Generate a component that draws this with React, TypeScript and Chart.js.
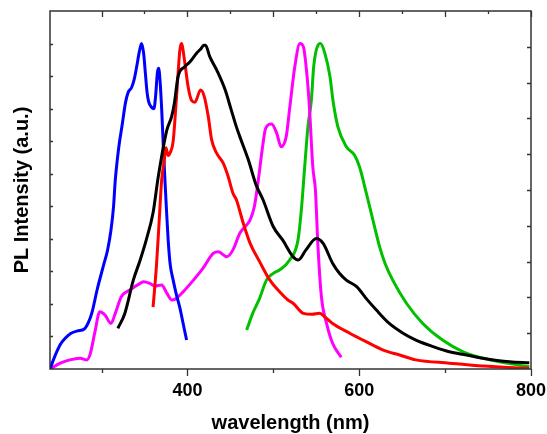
import React, { useEffect, useRef } from 'react';
import { Chart, registerables } from 'chart.js';

Chart.register(...registerables);

// wavelength (nm) and PL intensity (a.u., peak = 100)
const blackX = [319, 327, 337, 345, 352, 360, 366, 376, 381.5, 385, 389, 397, 403, 410.6, 416, 419, 421, 426, 434, 444, 451, 457, 461, 471, 480, 488, 500, 511, 523, 529, 538, 550, 558, 569, 577, 585, 597, 608, 620, 635, 651, 666, 686, 705, 725, 744, 775, 798];
const blackY = [12.5, 17, 27.3, 33.5, 39.6, 48, 59, 73.4, 77.5, 82, 89.8, 92.9, 94.4, 97, 98.5, 99.5, 99.5, 96, 91.9, 85.7, 79.6, 74.4, 71.4, 64.2, 56.5, 52, 43.7, 39.6, 34.5, 33.5, 36.6, 40.1, 38.6, 32.5, 29.4, 27.3, 25.3, 21.7, 18.1, 14, 11, 8.9, 6.9, 5.3, 4.3, 3.3, 2.2, 1.9];

const redX = [360, 364, 367, 370, 373, 375, 377.6, 380, 383.4, 387.3, 391.2, 393, 397, 400.8, 404.7, 408.7, 415.3, 419.3, 424.3, 428.2, 434, 441.8, 447.6, 453, 457, 465, 473, 484, 496, 509, 517, 523, 535, 545, 554, 560, 569, 589, 608, 628, 647, 666, 705, 744, 798];
const redY = [19, 32, 45, 58, 64, 68, 65.6, 66.5, 70, 83.6, 98, 100, 94, 86.7, 82.6, 82, 85.7, 84, 77.5, 70.4, 66.3, 63.2, 59, 54, 52, 44.8, 38.6, 33, 27.3, 23.3, 21.2, 20.2, 17.1, 16.8, 17.1, 16, 14, 11, 8.4, 5.8, 4.3, 2.8, 1.8, 0.9, 0.2];

const blueX = [240, 245, 252, 258, 264, 272, 280, 285, 289, 295, 303, 307, 311, 314, 316, 320, 324, 328, 331, 335, 338, 341, 344, 346.6, 349, 351, 353, 355, 358, 361, 363, 365, 366.5, 368, 370, 372, 374, 376, 378, 380, 383.4, 387, 391, 395, 399];
const blueY = [0, 3.5, 7.5, 9.5, 10.9, 11.7, 12.3, 14.5, 17.5, 24.5, 32.5, 36.5, 42.7, 50, 58, 68, 75, 82, 85, 86.5, 89, 93, 97.5, 100, 97, 91, 85, 82, 80.5, 80, 84, 91, 92.4, 89, 80, 68, 57, 47, 38, 32, 27.3, 23, 19, 14, 8.9];

const magentaX = [240, 252, 263, 275, 283, 287, 292, 298, 304, 311, 316, 323, 333, 345, 349, 356, 362, 370, 376, 382, 387, 395, 407, 418, 430, 436, 446, 453, 461, 467, 473, 478, 482, 488, 491, 498, 504, 509, 515, 519, 525, 531, 535, 539, 542, 546, 549, 552, 556, 562, 569, 579];
const magentaY = [0, 1.8, 2.8, 3.3, 2.8, 4.8, 11, 17.6, 16.6, 14, 17.1, 22.2, 24.3, 26.3, 26.8, 26.3, 25.5, 25.8, 23.3, 21.2, 21.7, 23.7, 27.3, 30.9, 35.5, 36, 34.5, 36.6, 41.7, 43.7, 45.8, 50, 57, 69.3, 73.9, 75.3, 72.4, 68.3, 71.4, 80, 92.9, 100, 99, 90.8, 80.6, 62, 55, 37.6, 22.2, 14, 7.9, 3.6];

const greenX = [469, 476, 484, 492, 500, 507, 519, 528.7, 532.6, 536.5, 540.3, 544.3, 547, 552, 555, 560, 566, 569.4, 575.2, 585, 594.6, 600.5, 608.3, 615.9, 623.7, 630, 639, 655, 674, 697, 721, 752, 798];
const greenY = [12, 17.1, 21.7, 27.3, 29.4, 30.4, 33.5, 39.6, 48.8, 62, 74.4, 82.6, 92.9, 99.5, 100, 97, 89.8, 82.6, 74.4, 68.3, 65.7, 62, 54, 45.8, 37.6, 32.5, 27.3, 20.2, 14, 8.9, 5.3, 2.8, 0.7];

const xTickLabels = [400, 600, 800];
const xMinorBottom = [300, 500, 700];
const xTopMajor = [300, 400, 500, 600, 700, 800];
const xTopMinor = [350, 450, 550, 650, 750];

const FONT = "'Liberation Sans', Arial, sans-serif";

const toPoints = (xs: number[], ys: number[]) => xs.map((x, i) => ({ x, y: ys[i] }));

const framePlugin = {
  id: 'frame',
  afterDatasetsDraw(chart: any) {
    const { ctx, chartArea: a, scales } = chart;
    const x = scales.x;
    const y = scales.y;
    const y2 = scales.y2;
    ctx.save();
    ctx.strokeStyle = '#333';
    ctx.lineWidth = 1.5;
    ctx.strokeRect(a.left, a.top, a.right - a.left, a.bottom - a.top);
    ctx.lineWidth = 1.3;
    ctx.beginPath();
    xTickLabels.forEach((v) => {
      const p = Math.round(x.getPixelForValue(v)) + 0.5;
      ctx.moveTo(p, a.bottom);
      ctx.lineTo(p, a.bottom + 7);
    });
    xMinorBottom.forEach((v) => {
      const p = Math.round(x.getPixelForValue(v)) + 0.5;
      ctx.moveTo(p, a.bottom);
      ctx.lineTo(p, a.bottom + 4);
    });
    xTopMajor.forEach((v) => {
      const p = Math.round(x.getPixelForValue(v)) + 0.5;
      ctx.moveTo(p, a.top);
      ctx.lineTo(p, a.top + 6);
    });
    xTopMinor.forEach((v) => {
      const p = Math.round(x.getPixelForValue(v)) + 0.5;
      ctx.moveTo(p, a.top);
      ctx.lineTo(p, a.top + 3);
    });
    for (let v = 10; v < 110; v += 10) {
      const p = Math.round(y.getPixelForValue(v)) + 0.5;
      ctx.moveTo(a.left, p);
      ctx.lineTo(a.left + 3, p);
    }
    for (let v = 1; v < 10; v += 1) {
      const p = Math.round(y2.getPixelForValue(v)) + 0.5;
      ctx.moveTo(a.right, p);
      ctx.lineTo(a.right - 4, p);
    }
    ctx.stroke();
    ctx.restore();
  },
};

export default function App() {
  const ref = useRef<HTMLCanvasElement>(null);

  useEffect(() => {
    document.body.style.margin = '0';
    const canvas = ref.current;
    if (!canvas) return;
    const line = (data: any[], color: string) => ({
      data,
      borderColor: color,
      backgroundColor: color,
      borderWidth: 3,
      pointRadius: 0,
      fill: false,
      cubicInterpolationMode: 'monotone' as const,
    });
    const chart = new Chart(canvas, {
      type: 'line',
      data: {
        datasets: [
          line(toPoints(blackX, blackY), '#000000'),
          line(toPoints(redX, redY), '#ff0000'),
          line(toPoints(blueX, blueY), '#0000ff'),
          line(toPoints(magentaX, magentaY), '#ff00ff'),
          line(toPoints(greenX, greenY), '#00c000'),
        ],
      },
      options: {
        animation: false,
        responsive: false,
        devicePixelRatio: 1,
        layout: { padding: { top: 11, left: 0, right: 0, bottom: 0 } },
        plugins: { legend: { display: false }, tooltip: { enabled: false } },
        scales: {
          x: {
            type: 'linear',
            min: 240,
            max: 800,
            border: { display: false },
            grid: { display: false, drawTicks: false },
            afterBuildTicks: (s: any) => {
              s.ticks = xTickLabels.map((v) => ({ value: v }));
            },
            ticks: {
              padding: 11,
              color: '#000',
              font: { family: FONT, size: 18, weight: 'bold' },
              callback: (v: any) => String(v),
            },
            title: {
              display: true,
              text: 'wavelength (nm)',
              color: '#000',
              font: { family: FONT, size: 20, weight: 'bold', lineHeight: 1 },
              padding: { top: 0, bottom: 1 },
            },
            afterFit: (s: any) => {
              s.height = 65;
              s.paddingLeft = 0;
              s.paddingRight = 0;
            },
          },
          y: {
            type: 'linear',
            position: 'left',
            min: 0,
            max: 110,
            border: { display: false },
            grid: { display: false, drawTicks: false },
            ticks: { display: false, stepSize: 10 },
            title: {
              display: true,
              text: 'PL Intensity (a.u.)',
              color: '#000',
              font: { family: FONT, size: 20, weight: 'bold', lineHeight: 1.2 },
              padding: { top: 10.5, bottom: 0 },
            },
            afterFit: (s: any) => {
              s.width = 50;
              s.paddingTop = 0;
              s.paddingBottom = 0;
            },
          },
          y2: {
            type: 'linear',
            position: 'right',
            min: 0,
            max: 10,
            border: { display: false },
            grid: { display: false, drawTicks: false },
            ticks: { display: false, stepSize: 1 },
            afterFit: (s: any) => {
              s.width = 16;
              s.paddingTop = 0;
              s.paddingBottom = 0;
            },
          },
        },
      },
      plugins: [framePlugin],
    });
    return () => chart.destroy();
  }, []);

  return <canvas ref={ref} width={547} height={434} style={{ display: 'block' }} />;
}
